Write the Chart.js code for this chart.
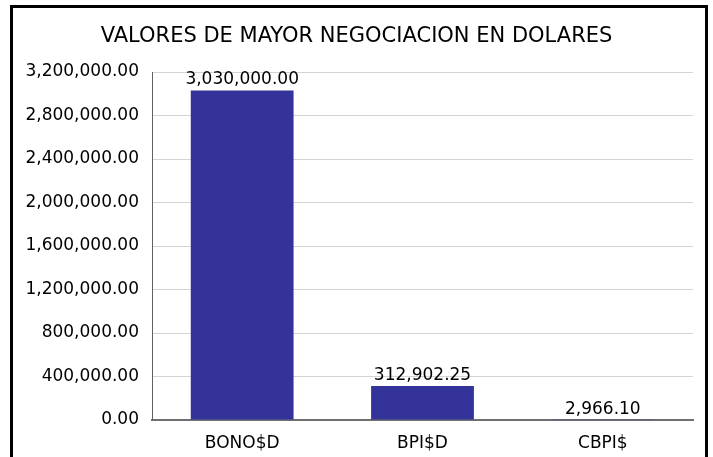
<!DOCTYPE html>
<html lang="es">
<head>
    <meta charset="UTF-8">
    <title>Valores de mayor negociacion en dolares</title>
    <script src="https://cdn.jsdelivr.net/npm/chart.js"></script>
    <style>
        body {
            margin: 0;
            background-color: white;
            overflow: hidden;
        }

        .frame {
            position: absolute;
            left: 10px;
            top: 5px;
            width: 698px;
            height: 470px;
            border: 3px solid black;
            box-sizing: border-box;
        }

        canvas {
            position: absolute;
            left: 0;
            top: 0;
        }
    </style>
</head>
<body>
    <canvas id="chart" width="713" height="457"></canvas>
    <div class="frame"></div>

    <script>
        // Data
        const chartTitle = 'VALORES DE MAYOR NEGOCIACION EN DOLARES';
        const instruments = ['BONO$D', 'BPI$D', 'CBPI$'];
        const amounts = [3030000.00, 312902.25, 2966.10];
        const yMax = 3200000;
        const yStep = 400000;

        const fontFamily = '"DejaVu Sans", Verdana, sans-serif';

        function money(v) {
            return v.toLocaleString('en-US', { minimumFractionDigits: 2, maximumFractionDigits: 2 });
        }

        // draws the title and the value above each bar
        const labelsPlugin = {
            id: 'labels',
            afterDatasetsDraw(chart) {
                const ctx = chart.ctx;
                ctx.save();
                ctx.fillStyle = 'black';
                ctx.textAlign = 'center';
                ctx.textBaseline = 'alphabetic';

                ctx.font = '21px ' + fontFamily;
                ctx.fillText(chartTitle, chart.width / 2, 42);

                ctx.font = '17px ' + fontFamily;
                const meta = chart.getDatasetMeta(0);
                meta.data.forEach((bar, i) => {
                    ctx.fillText(money(amounts[i]), bar.x, bar.y - 6);
                });
                ctx.restore();
            }
        };

        new Chart(document.getElementById('chart'), {
            type: 'bar',
            data: {
                labels: instruments,
                datasets: [{
                    data: amounts,
                    backgroundColor: '#333399',
                    categoryPercentage: 1.0,
                    barPercentage: 0.57,
                }]
            },
            plugins: [labelsPlugin],
            options: {
                responsive: false,
                animation: false,
                layout: {
                    padding: { top: 72, right: 20, left: 0, bottom: 0 }
                },
                plugins: {
                    legend: { display: false },
                    title: { display: false },
                    tooltip: { enabled: false },
                },
                scales: {
                    x: {
                        afterFit(scale) { scale.height = 37; },
                        grid: { display: false, drawTicks: false },
                        border: { color: '#707070', width: 2 },
                        ticks: {
                            color: 'black',
                            padding: 13,
                            font: { family: fontFamily, size: 17 },
                        },
                    },
                    y: {
                        min: 0,
                        max: yMax,
                        afterFit(scale) { scale.width = 152; },
                        grid: { color: '#d4d4d4', drawTicks: false },
                        border: { color: '#606060', width: 1 },
                        ticks: {
                            stepSize: yStep,
                            color: 'black',
                            padding: 13,
                            font: { family: fontFamily, size: 17 },
                            callback: (v) => money(v),
                        },
                    },
                },
            },
        });
    </script>
</body>
</html>
